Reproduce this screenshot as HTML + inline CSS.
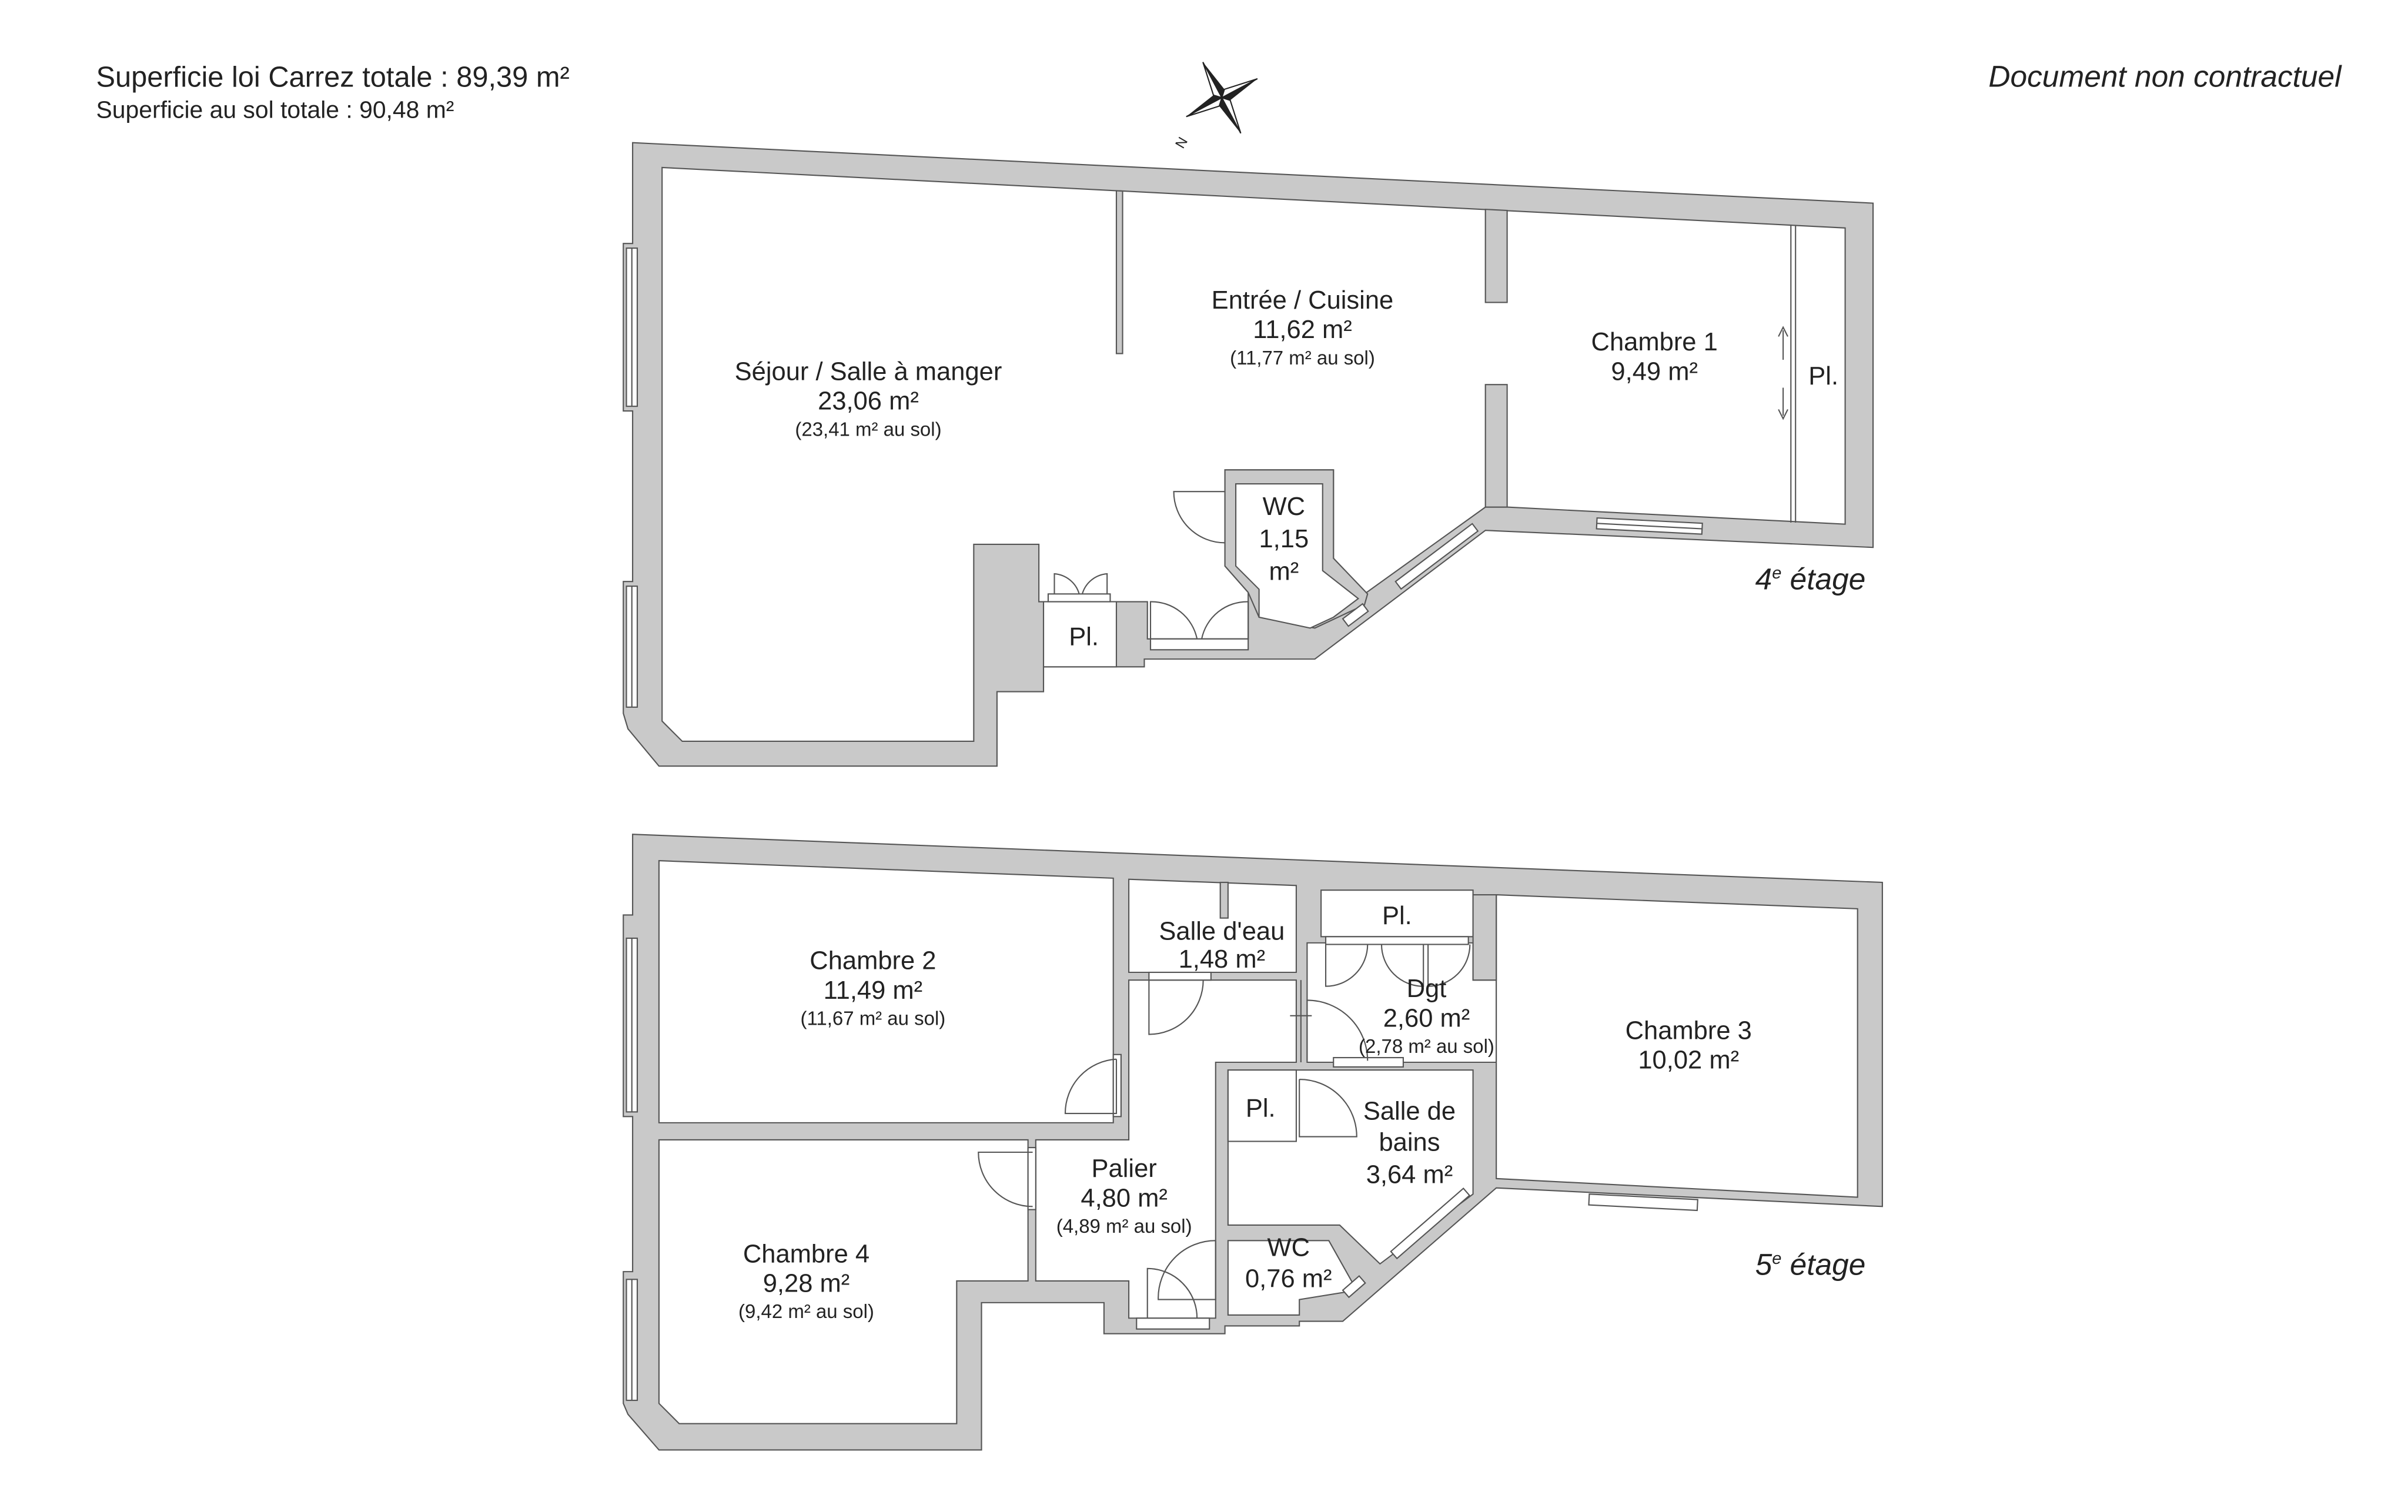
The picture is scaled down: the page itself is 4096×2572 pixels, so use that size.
<!DOCTYPE html>
<html><head><meta charset="utf-8">
<style>
html,body{margin:0;padding:0;background:#fff;}
svg{display:block;}
text{font-family:"Liberation Sans",sans-serif;fill:#222;}
</style></head>
<body>
<svg width="4096" height="2572" viewBox="0 0 1553 975" preserveAspectRatio="none" xmlns="http://www.w3.org/2000/svg">
<rect width="1553" height="975" fill="#fff"/>
<text x="62" y="56" font-size="18.5">Superficie loi Carrez totale : 89,39 m²</text>
<text x="62" y="76" font-size="15.5">Superficie au sol totale :  90,48 m²</text>
<text x="1510" y="56" font-size="19.5" font-style="italic" text-anchor="end">Document non contractuel</text>
<g transform="translate(788,63) rotate(-28)">
<polygon points="0,-26 4,-4 0,0" fill="#222"/><polygon points="0,-26 -4,-4 0,0" fill="#fff" stroke="#222" stroke-width="0.8"/>
<polygon points="0,26 -4,4 0,0" fill="#222"/><polygon points="0,26 4,4 0,0" fill="#fff" stroke="#222" stroke-width="0.8"/>
<polygon points="26,0 4,4 0,0" fill="#222"/><polygon points="26,0 4,-4 0,0" fill="#fff" stroke="#222" stroke-width="0.8"/>
<polygon points="-26,0 -4,-4 0,0" fill="#222"/><polygon points="-26,0 -4,4 0,0" fill="#fff" stroke="#222" stroke-width="0.8"/>
</g>
<text x="757" y="94" font-size="9" transform="rotate(-60 762 90)">N</text>

<g stroke="#555" stroke-width="0.8" stroke-linejoin="miter">
<polygon fill="#c9c9c9" points="408,92 1208,131 1208,353 958,342 848,425 738,425 738,430 720,430 673,430 673,446 643,446 643,494 425,494 405,470 402,460 402,375 408,375 408,265 402,265 402,157 408,157"/>
<polygon fill="#fff" points="427,108 1190,147 1190,338 972,327 958,327 880,383 860,360 860,303 790,303 790,365 805,382 805,412 740,412 740,388 670,388 670,351 628,351 628,478 440,478 427,465"/>
<polygon fill="#c9c9c9" points="720,123 724,123.2 724,228 720,228"/>
<polygon fill="#c9c9c9" points="958,135 972,135.7 972,195 958,195"/>
<rect fill="#c9c9c9" x="958" y="248" width="14" height="79"/>
<line x1="1155" y1="145" x2="1155" y2="337"/>
<line x1="1158" y1="145" x2="1158" y2="337"/>
<polygon fill="#c9c9c9" points="790,303 860,303 860,360 882,383 880,390 848,405 812,398 805,382 790,365"/>
<polygon fill="#fff" points="797,312 853,312 853,368 876,386 860,398 845,405 812,398 812,380 797,365"/>
<rect fill="#fff" x="673" y="388" width="47" height="42"/>
<rect fill="#fff" x="404" y="160" width="7" height="102"/>
<line x1="407.5" y1="160" x2="407.5" y2="262"/>
<rect fill="#fff" x="404" y="378" width="7" height="78"/>
<line x1="407.5" y1="378" x2="407.5" y2="456"/>
<rect fill="#fff" x="1030" y="334" width="68" height="7" transform="rotate(2.9 1030 334)"/>
<line x1="1030" y1="337.5" x2="1098" y2="341"/>
<rect fill="#fff" x="0" y="0" width="62" height="6" transform="translate(900,375) rotate(-37)"/>
<rect fill="#fff" x="0" y="0" width="16" height="6" transform="translate(866,399) rotate(-37)"/>
<rect fill="#fff" x="742" y="412" width="63" height="7"/>
<rect fill="#fff" x="676" y="383" width="40" height="5"/>
<path fill="none" d="M790,317 L757,317 A33,33 0 0 0 790,350"/>
<path fill="none" d="M742,412 L742,388 A30,30 0 0 1 772,412"/>
<path fill="none" d="M805,412 L805,388 A30,30 0 0 0 775,412"/>
<path fill="none" d="M680,383 L680,370 A18,18 0 0 1 696,383 M714,383 L714,370 A18,18 0 0 0 698,383"/>
<path fill="none" d="M1150,213 L1150,232 M1147,217 L1150,211 L1153,217 M1150,250 L1150,268 M1147,264 L1150,270 L1153,264"/>

<polygon fill="#c9c9c9" points="408,538 1214,569 1214,778 965,766 866,852 838,852 838,855 790,855 790,860 712,860 712,840 633,840 633,935 425,935 405,912 402,905 402,820 408,820 408,720 402,720 402,590 408,590"/>
<polygon fill="#fff" points="425,555 718,566.3 718,724 425,724"/>
<polygon fill="#fff" points="425,735 663,735 663,826 617,826 617,918 438,918 425,905"/>
<polygon fill="#fff" points="728,632 836,632 836,685 784,685 784,850 733,850 728,850 728,826 668,826 668,735 728,735"/>
<polygon fill="#fff" points="728,567 836,571 836,627 728,627"/>
<rect fill="#c9c9c9" x="787" y="569" width="5" height="23"/>
<rect fill="#fff" x="852" y="574" width="98" height="30"/>
<polygon fill="#fff" points="843,608 950,608 950,632 965,632 965,685 843,685"/>
<polygon fill="#fff" points="965,577 1198,586 1198,772 965,760"/>
<rect fill="#c9c9c9" x="950" y="577" width="15" height="55"/>
<rect fill="#fff" x="952" y="633" width="12" height="51" stroke="none"/>
<line x1="839" y1="632" x2="839" y2="685"/>
<line x1="832" y1="655" x2="846" y2="655"/>
<polygon fill="#fff" points="792,690 950,690 950,770 890,815 864,790 792,790"/>
<rect fill="#fff" x="792" y="690" width="44" height="46"/>
<polygon fill="#fff" points="792,800 857,800 875,832 838,838 838,848 792,848"/>
<rect fill="#fff" x="404" y="605" width="7" height="112"/>
<line x1="407.5" y1="605" x2="407.5" y2="717"/>
<rect fill="#fff" x="404" y="825" width="7" height="78"/>
<line x1="407.5" y1="825" x2="407.5" y2="903"/>
<rect fill="#fff" x="1025" y="770" width="70" height="7" transform="rotate(2.9 1025 770)"/>
<rect fill="#fff" x="0" y="0" width="62" height="6" transform="translate(897,807) rotate(-41)"/>
<rect fill="#fff" x="0" y="0" width="14" height="6" transform="translate(866,832) rotate(-41)"/>
<rect fill="#fff" x="733" y="850" width="47" height="7"/>
<rect fill="#fff" x="741" y="627" width="40" height="5"/>
<rect fill="#fff" x="855" y="604" width="92" height="5"/>
<rect fill="#fff" x="860" y="682" width="45" height="6"/>
<rect fill="#fff" x="718" y="680" width="5" height="40"/>
<rect fill="#fff" x="663" y="740" width="5" height="40"/>
<path fill="none" d="M741,632 L741,667 A35,35 0 0 0 776,632"/>
<path fill="none" d="M720,683 L720,718 L687,718 A35,35 0 0 1 720,683"/>
<path fill="none" d="M666,743 L631,743 A35,35 0 0 0 666,778"/>
<path fill="none" d="M855,609 L855,636 A27,27 0 0 0 882,609 M918,609 L918,636 A27,27 0 0 1 891,609 M921,609 L921,636 A27,27 0 0 0 948,609"/>
<path fill="none" d="M843,684 L843,645 A39,39 0 0 1 882,684"/>
<path fill="none" d="M838,696 L838,733 L875,733 A37,37 0 0 0 838,696"/>
<path fill="none" d="M784,800 L784,838 L747,838 A37,37 0 0 1 784,800"/>
<path fill="none" d="M740,850 L740,818 A32,32 0 0 1 772,850"/>
</g>

<g font-size="16.5" text-anchor="middle">
<text x="560" y="245">Séjour / Salle à manger</text>
<text x="560" y="264">23,06 m²</text>
<text x="560" y="281" font-size="12.5">(23,41 m² au sol)</text>
<text x="840" y="199">Entrée / Cuisine</text>
<text x="840" y="218">11,62 m²</text>
<text x="840" y="235" font-size="12.5">(11,77 m² au sol)</text>
<text x="1067" y="226">Chambre 1</text>
<text x="1067" y="245">9,49 m²</text>
<text x="1176" y="248">Pl.</text>
<text x="828" y="332">WC</text>
<text x="828" y="353">1,15</text>
<text x="828" y="374">m²</text>
<text x="699" y="416">Pl.</text>
<text x="563" y="625">Chambre 2</text>
<text x="563" y="644">11,49 m²</text>
<text x="563" y="661" font-size="12.5">(11,67 m² au sol)</text>
<text x="788" y="606">Salle d'eau</text>
<text x="788" y="624">1,48 m²</text>
<text x="901" y="596">Pl.</text>
<text x="920" y="643">Dgt</text>
<text x="920" y="662">2,60 m²</text>
<text x="920" y="679" font-size="12.5">(2,78 m² au sol)</text>
<text x="1089" y="670">Chambre 3</text>
<text x="1089" y="689">10,02 m²</text>
<text x="813" y="720">Pl.</text>
<text x="909" y="722">Salle de</text>
<text x="909" y="742">bains</text>
<text x="909" y="763">3,64 m²</text>
<text x="725" y="759">Palier</text>
<text x="725" y="778">4,80 m²</text>
<text x="725" y="795" font-size="12.5">(4,89 m² au sol)</text>
<text x="831" y="810">WC</text>
<text x="831" y="830">0,76 m²</text>
<text x="520" y="814">Chambre 4</text>
<text x="520" y="833">9,28 m²</text>
<text x="520" y="850" font-size="12.5">(9,42 m² au sol)</text>
</g>
<text x="1132" y="380" font-size="19.5" font-style="italic">4<tspan font-size="11" dy="-7">e</tspan><tspan dy="7"> étage</tspan></text>
<text x="1132" y="822" font-size="19.5" font-style="italic">5<tspan font-size="11" dy="-7">e</tspan><tspan dy="7"> étage</tspan></text>
</svg>
</body></html>
